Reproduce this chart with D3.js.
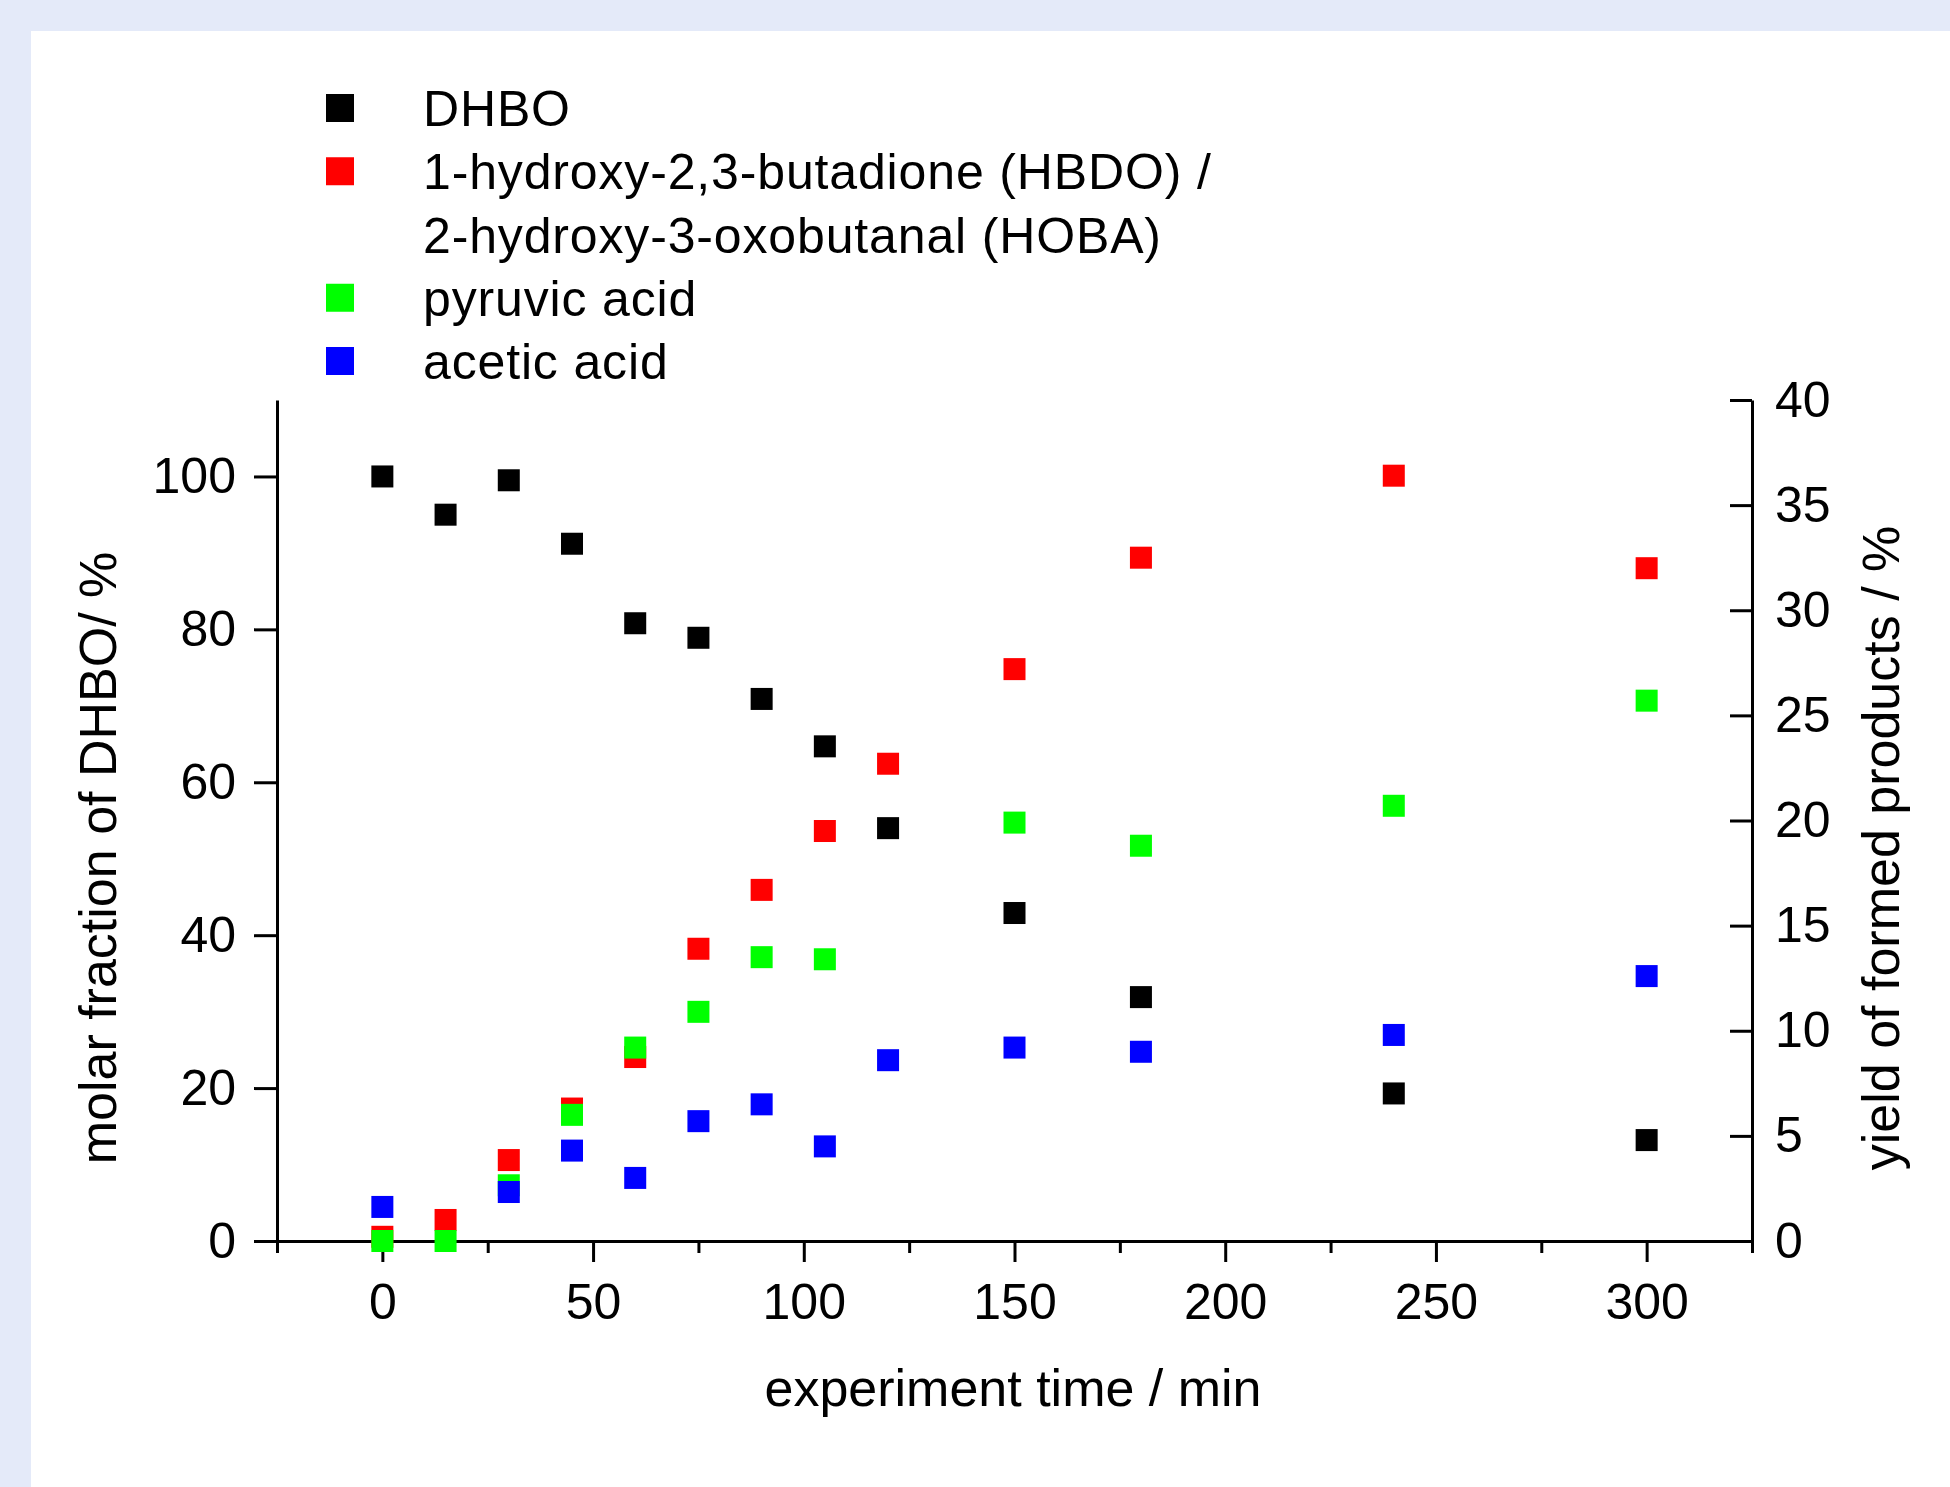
<!DOCTYPE html>
<html>
<head>
<meta charset="utf-8">
<script src="https://cdn.jsdelivr.net/npm/d3@7"></script>
<style>
  html, body { margin: 0; padding: 0; background: #e4eaf9; }
  svg { display: block; }
  text { font-family: "Liberation Sans", Arial, sans-serif; fill: #000; }
</style>
</head>
<body>
<svg id="chart" width="1950" height="1487"></svg>
<script>
// experiment time / min
var times = [0, 15, 30, 45, 60, 75, 90, 105, 120, 150, 180, 240, 300];

// molar fraction of DHBO / % (left axis)
var dhbo = [100, 95.0, 99.5, 91.2, 80.8, 78.9, 70.9, 64.7, 54.0, 42.9, 31.9, 19.3, 13.2];
// yields / % (right axis), null = not shown
var hbdo = [0.2, 1.0, 3.85, 6.3, 8.75, 13.9, 16.7, 19.5, 22.7, 27.2, 32.5, 36.4, 32.0];
var pyruvic = [0, 0, 2.65, 6.0, 9.2, 10.9, 13.5, 13.4, null, 19.9, 18.8, 20.7, 25.7];
var acetic = [1.62, null, 2.33, 4.3, 3.0, 5.7, 6.5, 4.5, 8.6, 9.2, 9.0, 9.8, 12.6];

var legendLabels = ["DHBO", "1-hydroxy-2,3-butadione (HBDO) /", "2-hydroxy-3-oxobutanal (HOBA)", "pyruvic acid", "acetic acid"];
var legendColors = ["#000000", "#ff0000", null, "#00ff00", "#0000ff"];

var xTicks = [0, 50, 100, 150, 200, 250, 300];
var xMinor = [-25, 25, 75, 125, 175, 225, 275, 325];
var yLeftTicks = [0, 20, 40, 60, 80, 100];
var yRightTicks = [0, 5, 10, 15, 20, 25, 30, 35, 40];

var svg = d3.select("#chart");

// white panel
svg.append("rect")
  .attr("x", 31).attr("y", 31)
  .attr("width", 1950 - 31).attr("height", 1487 - 31)
  .attr("fill", "#ffffff");

var x = d3.scaleLinear().domain([-25, 325]).range([277, 1752]);
var yL = d3.scaleLinear().domain([0, 110]).range([1241, 400]);
var yR = d3.scaleLinear().domain([0, 40]).range([1241, 400]);

function styleAxis(g) {
  g.select(".domain").attr("stroke", "#000").attr("stroke-width", 3);
  g.selectAll(".tick line").attr("stroke", "#000").attr("stroke-width", 3);
  g.selectAll(".tick text").attr("font-size", 50).attr("font-family", "Liberation Sans, Arial, sans-serif");
}

// bottom axis
svg.append("g")
  .attr("transform", "translate(0,1241)")
  .call(d3.axisBottom(x).tickValues(xMinor).tickSize(12).tickSizeOuter(0).tickFormat(""))
  .call(styleAxis);
svg.append("g")
  .attr("transform", "translate(0,1241)")
  .call(d3.axisBottom(x).tickValues(xTicks).tickSize(21).tickSizeOuter(0).tickPadding(21).tickFormat(d3.format("d")))
  .call(styleAxis);

// left axis
svg.append("g")
  .attr("transform", "translate(277,0)")
  .call(d3.axisLeft(yL).tickValues(yLeftTicks).tickSize(23).tickSizeOuter(0).tickPadding(18))
  .call(styleAxis);

// right axis, ticks pointing inward
svg.append("g")
  .attr("transform", "translate(1752,0)")
  .call(d3.axisRight(yR).tickValues(yRightTicks).tickSizeInner(-22).tickSizeOuter(0).tickPadding(23))
  .call(styleAxis);

// axis titles
svg.append("text")
  .attr("x", 1013).attr("y", 1406)
  .attr("text-anchor", "middle").attr("font-size", 52)
  .text("experiment time / min");

svg.append("text")
  .attr("transform", "translate(116,858) rotate(-90)")
  .attr("text-anchor", "middle").attr("font-size", 52)
  .text("molar fraction of DHBO/ %");

svg.append("text")
  .attr("transform", "translate(1899,848) rotate(-90)")
  .attr("text-anchor", "middle").attr("font-size", 52)
  .text("yield of formed products / %");

// markers
var ms = 22;
function drawSeries(vals, scale, color) {
  var pts = times.map(function (t, i) { return { t: t, v: vals[i] }; })
    .filter(function (d) { return d.v !== null; });
  svg.append("g").selectAll("rect")
    .data(pts)
    .enter().append("rect")
      .attr("x", function (d) { return x(d.t) - ms / 2; })
      .attr("y", function (d) { return scale(d.v) - ms / 2; })
      .attr("width", ms)
      .attr("height", ms)
      .attr("fill", color);
}

drawSeries(dhbo, yL, "#000000");
drawSeries(hbdo, yR, "#ff0000");
drawSeries(pyruvic, yR, "#00ff00");
drawSeries(acetic, yR, "#0000ff");

// legend
var lg = svg.append("g");
var rowY = d3.scaleLinear().domain([0, 4]).range([126, 379]);
legendLabels.forEach(function (lab, i) {
  if (legendColors[i]) {
    lg.append("rect")
      .attr("x", 326).attr("y", rowY(i) - 18 - 14)
      .attr("width", 28).attr("height", 28)
      .attr("fill", legendColors[i]);
  }
  lg.append("text")
    .attr("x", 423).attr("y", rowY(i))
    .attr("font-size", 50)
    .attr("letter-spacing", 0.85)
    .text(lab);
});
</script>
</body>
</html>
